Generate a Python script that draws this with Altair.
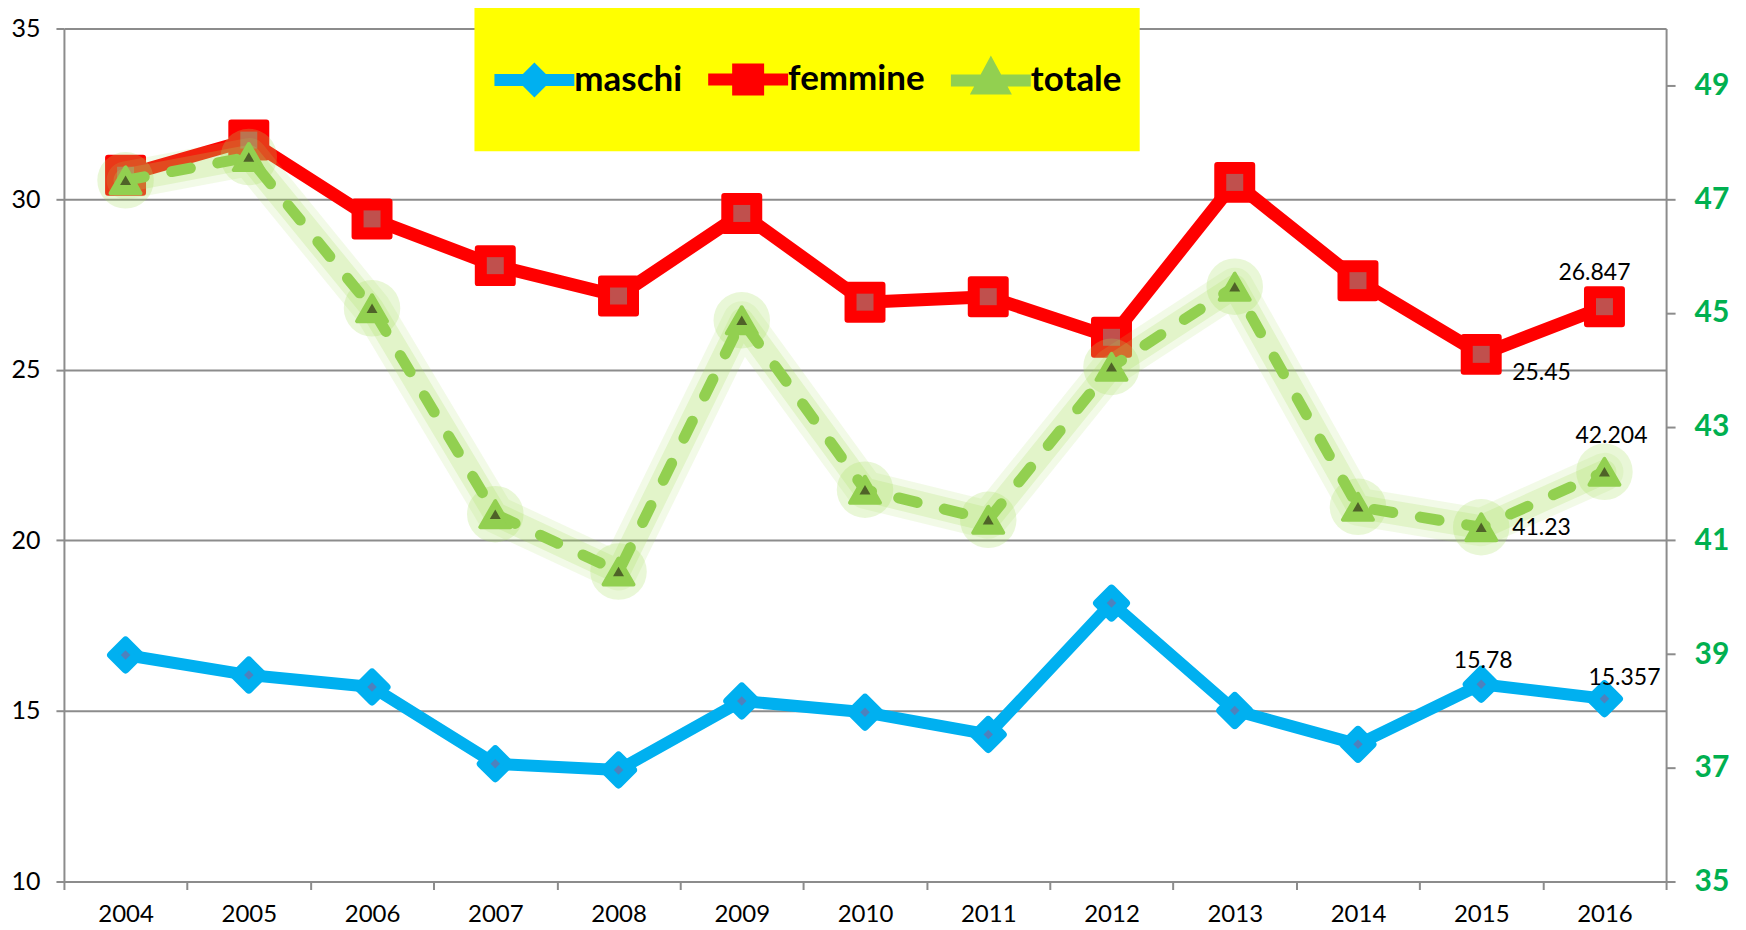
import altair as alt
import pandas as pd

years = ["2004", "2005", "2006", "2007", "2008", "2009", "2010",
         "2011", "2012", "2013", "2014", "2015", "2016"]
maschi = [16.64, 16.05, 15.70, 13.45, 13.27, 15.29, 14.96, 14.31, 18.16, 15.01, 14.02, 15.78, 15.357]
femmine = [30.70, 31.73, 29.42, 28.05, 27.16, 29.58, 26.98, 27.14, 25.95, 30.49, 27.61, 25.45, 26.847]
totale = [47.33, 47.74, 45.08, 41.46, 40.45, 44.87, 41.89, 41.36, 44.05, 45.46, 41.59, 41.23, 42.204]

series_names = ["maschi", "femmine", "totale"]
series_colors = ["#00B0F0", "#FF0000", "#92D050"]
legend_shapes = [
    "M-2,0H2M0,-0.45L0.45,0L0,0.45L-0.45,0Z",
    "M-2,0H2M-0.5,-0.5H0.5V0.5H-0.5Z",
    "M-2,0H2M0,-0.62L0.55,0.4H-0.55Z",
]
left_ticks = [10, 15, 20, 25, 30, 35]
right_ticks = [35, 37, 39, 41, 43, 45, 47, 49]


def frame(values, name):
    return pd.DataFrame({"year": years, "value": values, "series": name,
                         "label": [str(v) for v in values]})


df_m = frame(maschi, "maschi")
df_f = frame(femmine, "femmine")
df_t = frame(totale, "totale")
df_all = pd.concat([df_m, df_f, df_t], ignore_index=True)

GRAY = "#8c8c8c"
FONT = "Lato"

x_axis = alt.Axis(title=None, tickBand="extent", labelFont=FONT, labelFontSize=24,
                  labelColor="#000000", tickColor=GRAY, tickSize=8, tickWidth=2,
                  domainColor=GRAY, domainWidth=2, labelPadding=13, labelAngle=0)
x_enc = alt.X("year:N", scale=alt.Scale(type="band", paddingInner=0, paddingOuter=0, domain=years),
              axis=x_axis)

left_axis = alt.Axis(title=None, values=left_ticks, grid=True, gridColor=GRAY, gridWidth=2,
                     tickColor=GRAY, tickSize=8, tickWidth=2, domainColor=GRAY, domainWidth=2,
                     labelFont=FONT, labelFontSize=25, labelColor="#000000", labelPadding=16)
y_left = alt.Y("value:Q", scale=alt.Scale(domain=[10, 35], nice=False, zero=False), axis=left_axis)

right_axis = alt.Axis(title=None, orient="right", values=right_ticks, grid=False,
                      tickColor=GRAY, tickSize=9, tickWidth=2, domainColor=GRAY, domainWidth=2,
                      labelFont=FONT, labelFontSize=30, labelFontWeight="bold",
                      labelColor="#00B050", labelPadding=19)
y_right = alt.Y("value:Q", scale=alt.Scale(domain=[35, 50], nice=False, zero=False), axis=right_axis)


def pts(df, y, shape, size, color, stroke_w=0):
    kw = dict(shape=shape, filled=True, size=size, color=color, opacity=1)
    if stroke_w:
        kw.update(stroke=color, strokeWidth=stroke_w, strokeJoin="round")
    return alt.Chart(df).mark_point(**kw).encode(x=x_enc, y=y)


def label(df, y, year, dx, dy, align):
    return alt.Chart(df).transform_filter(alt.datum.year == year).mark_text(
        align=align, baseline="alphabetic", dx=dx, dy=dy, font=FONT, fontSize=23, color="#000000"
    ).encode(x=x_enc, y=y, text="label:N")


box = alt.Chart(pd.DataFrame({"k": [0]})).mark_rect(color="#FFFF00").encode(
    x=alt.value(411), x2=alt.value(1077), y=alt.value(-21), y2=alt.value(123))

blue_line = alt.Chart(df_m).mark_line(color="#00B0F0", strokeWidth=12, strokeJoin="round",
                                      strokeCap="round").encode(x=x_enc, y=y_left)
blue_out = pts(df_m, y_left, "diamond", 841, "#00B0F0", 8)
blue_in = pts(df_m, y_left, "diamond", 90, "#4F81BD")

red_line = alt.Chart(df_f).mark_line(color="#FF0000", strokeWidth=13, strokeJoin="round",
                                     strokeCap="round").encode(x=x_enc, y=y_left)
red_out = pts(df_f, y_left, "square", 1225, "#FF0000", 6)
red_in = pts(df_f, y_left, "square", 289, "#C0504D")

leg = alt.Legend(title=None, orient="none", legendX=445, legendY=25, direction="horizontal",
                 padding=0, labelFont=FONT, labelFontWeight="bold", labelFontSize=35,
                 labelColor="#000000", symbolSize=1600, symbolStrokeWidth=12, labelOffset=14,
                 columnPadding=2, symbolOpacity=1, labelLimit=0)
legend_layer = alt.Chart(df_all).transform_filter("false").mark_point(
    filled=True, opacity=1, strokeWidth=12).encode(
    x=x_enc, y=y_left,
    fill=alt.Fill("series:N", scale=alt.Scale(domain=series_names, range=series_colors), legend=leg),
    stroke=alt.Stroke("series:N", scale=alt.Scale(domain=series_names, range=series_colors), legend=leg),
    shape=alt.Shape("series:N", scale=alt.Scale(domain=series_names, range=legend_shapes), legend=leg),
)

left = alt.layer(
    box, blue_line, blue_out, blue_in, red_line, red_out, red_in,
    label(df_m, y_left, "2015", 2, -16, "center"),
    label(df_m, y_left, "2016", 20, -14, "center"),
    label(df_f, y_left, "2015", 31, 26, "left"),
    label(df_f, y_left, "2016", -10, -27, "center"),
    legend_layer,
)

glow1 = alt.Chart(df_t).mark_line(color="#A8E060", strokeWidth=38, opacity=0.15, strokeJoin="round",
                                  strokeCap="round").encode(x=x_enc, y=y_right)
glow2 = alt.Chart(df_t).mark_line(color="#A8E060", strokeWidth=24, opacity=0.22, strokeJoin="round",
                                  strokeCap="round").encode(x=x_enc, y=y_right)
glow_pts = alt.Chart(df_t).mark_point(shape="circle", filled=True, size=3200, color="#A8E060",
                                      opacity=0.25).encode(x=x_enc, y=y_right)
green_line = alt.Chart(df_t).mark_line(color="#92D050", strokeWidth=11, strokeDash=[19, 28],
                                       strokeCap="round", strokeJoin="round").encode(x=x_enc, y=y_right)
green_out = pts(df_t, y_right, "triangle-up", 900, "#92D050", 4)
green_in = pts(df_t, y_right, "triangle-up", 120, "#4F6228")

right = alt.layer(
    glow1, glow2, glow_pts, green_line, green_out, green_in,
    label(df_t, y_right, "2015", 31, 8, "left"),
    label(df_t, y_right, "2016", 7, -29, "center"),
)

chart = alt.layer(left, right).resolve_scale(y="independent").properties(
    width=1604, height=854,
    padding={"left": 56, "top": 20, "right": 72, "bottom": 48},
    autosize=alt.AutoSizeParams(type="none"),
).configure_view(stroke="transparent")

chart.save("out.html", embed_options={"renderer": "svg", "actions": False})
